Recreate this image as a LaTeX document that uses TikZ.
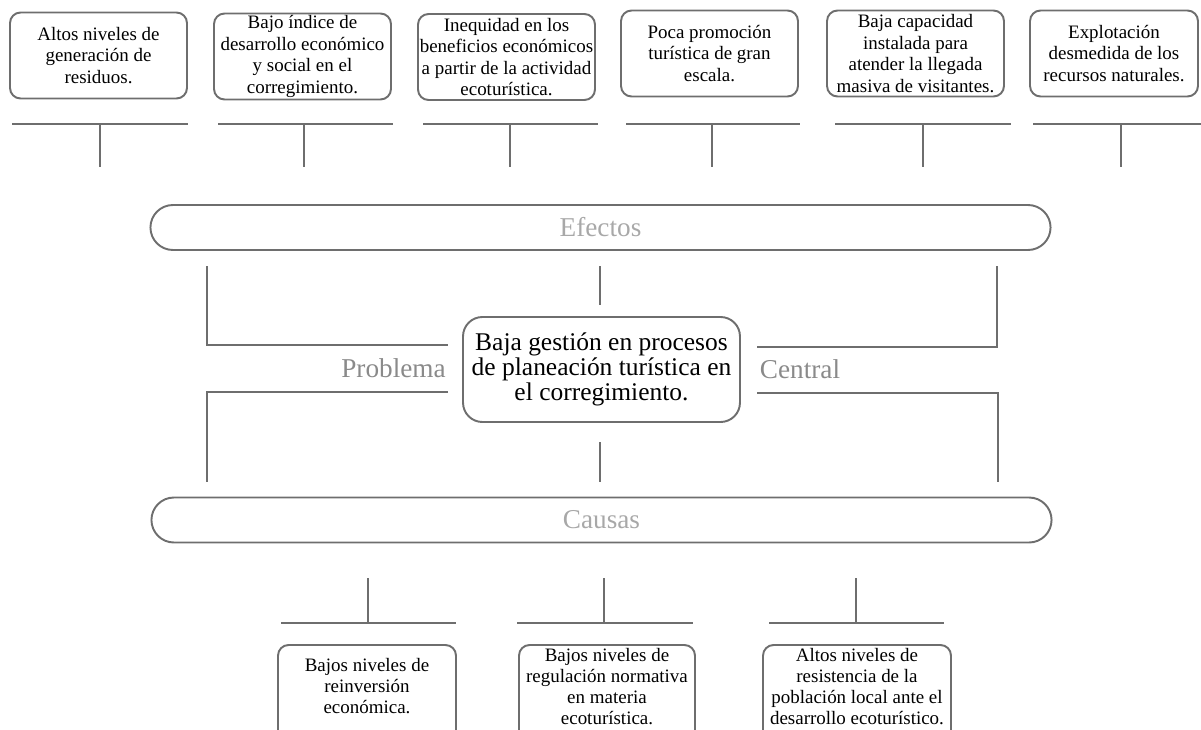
\documentclass[tikz,border=0pt]{standalone}
\usepackage{fontspec}
\setmainfont{Liberation Serif}
\usetikzlibrary{shapes.misc}
\definecolor{linegray}{HTML}{6E6E6E}
\definecolor{bargray}{HTML}{A8A8A8}
\definecolor{sidegray}{HTML}{8A8A8A}

\begin{document}
\begin{tikzpicture}[x=0.02cm, y=-0.02cm,
    link_line/.style={draw=linegray, line width=0.9pt},
    box_node/.style={draw=linegray, line width=1.1pt, rounded corners=6pt, align=center, inner xsep=1pt, inner ysep=0pt, font=\fontsize{10.8}{12.2}\selectfont},
    effect_node/.style={box_node, minimum width=3.54cm, minimum height=1.72cm},
    cause_node/.style={box_node, minimum height=1.92cm, font=\fontsize{10.8}{12}\selectfont},
    bar_node/.style={rounded rectangle, draw=linegray, line width=1.1pt, minimum width=18.24cm, minimum height=0.9cm, text=bargray, font=\fontsize{15.5}{16}\selectfont},
    side_node/.style={text=sidegray, inner sep=0pt, font=\fontsize{15.5}{16}\selectfont}]

    \useasboundingbox (0,0) rectangle (1201,730);

    \node[effect_node] (e1) at (98.5,55.5) {Altos niveles de\\generación de\\residuos.};
    \node[effect_node] (e2) at (302.5,56.5) {Bajo índice de\\desarrollo económico\\y social en el\\corregimiento.};
    \node[effect_node] (e3) at (506.5,57) {Inequidad en los\\beneficios económicos\\a partir de la actividad\\ecoturística.};
    \node[effect_node] (e4) at (709.5,53.5) {Poca promoción\\turística de gran\\escala.};
    \node[effect_node] (e5) at (915.5,53.5) {Baja capacidad\\instalada para\\atender la llegada\\masiva de visitantes.};
    \node[effect_node, minimum width=3.36cm] (e6) at (1114,53.5) {Explotación\\desmedida de los\\recursos naturales.};

    \foreach \x/\a/\b [count=\i] in {100/12/188, 304/218/393, 510/423/598, 712/626/800, 923/835/1011, 1121/1033/1201} {
        \coordinate (et\i) at (\x,124);
        \draw[link_line] (\a,124) -- (\b,124);
        \draw[link_line] (et\i) -- (\x,167);
    }

    \node[bar_node] (efectos) at (600.5,227.5) {Efectos};
    \node[bar_node] (causas) at (601.5,520) {Causas};

    \node[box_node, rounded corners=11pt, minimum width=5.54cm, minimum height=2.1cm, font=\fontsize{14.5}{14.2}\selectfont] (central) at (601.5,369.5) {Baja gestión en procesos\\de planeación turística en\\el corregimiento.};
    \node[side_node] (problema) at (393.5,368) {Problema};
    \node[side_node] (centraltxt) at (800,369) {Central};

    \coordinate (ul) at (207,266);
    \coordinate (um) at (600,266);
    \coordinate (ur) at (997,266);
    \coordinate (pl) at (448,345);
    \coordinate (pr) at (757,347);
    \coordinate (pm) at (600,305);
    \draw[link_line] (ul) |- (pl);
    \draw[link_line] (ur) |- (pr);
    \draw[link_line] (um) -- (pm);

    \coordinate (ql) at (448,392);
    \coordinate (qr) at (757,393);
    \coordinate (qm) at (600,442);
    \coordinate (dl) at (207,482);
    \coordinate (dr) at (998,482);
    \coordinate (dm) at (600,482);
    \draw[link_line] (ql) -| (dl);
    \draw[link_line] (qr) -| (dr);
    \draw[link_line] (qm) -- (dm);

    \foreach \x/\a/\b [count=\i] in {368/281/456, 604/517/693, 856/769/944} {
        \coordinate (ct\i) at (\x,623);
        \draw[link_line] (\a,623) -- (\b,623);
        \draw[link_line] (ct\i) -- (\x,578);
    }

    \node[cause_node, minimum width=3.56cm] (c1) at (367,693) {\\[-13pt]Bajos niveles de\\reinversión\\económica.};
    \node[cause_node, minimum width=3.52cm] (c2) at (607,693) {\\[-13pt]Bajos niveles de\\regulación normativa\\en materia\\ecoturística.};
    \node[cause_node, minimum width=3.76cm] (c3) at (857,693) {\\[-13pt]Altos niveles de\\resistencia de la\\población local ante el\\desarrollo ecoturístico.};
\end{tikzpicture}
\end{document}
